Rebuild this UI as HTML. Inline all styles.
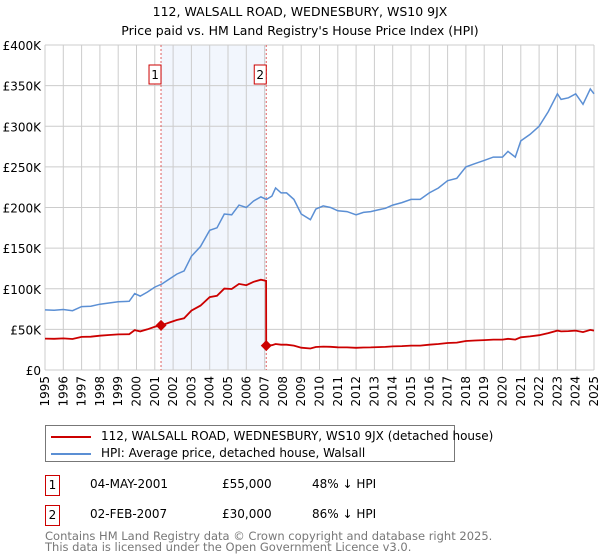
<!DOCTYPE html>
<html><head><meta charset="utf-8"><style>
body{margin:0;background:#fff;font-family:"DejaVu Sans","Liberation Sans",sans-serif;}
#wrap{position:relative;width:600px;height:560px;overflow:hidden;}
.t{position:absolute;font-size:12px;color:#000;white-space:nowrap;}
</style></head><body>
<div id="wrap">
<div class="t" style="left:0;width:600px;top:2px;text-align:center;line-height:19px;font-size:12.5px">112, WALSALL ROAD, WEDNESBURY, WS10 9JX<br>Price paid vs. HM Land Registry's House Price Index (HPI)</div>
<svg id="chart" width="600" height="420" style="position:absolute;left:0;top:0"></svg>
<div style="position:absolute;left:45px;top:425px;width:408px;height:35px;border:1px solid #777;font-size:12px">
 <div style="position:absolute;left:5px;top:3px;white-space:nowrap"><span style="display:inline-block;width:40px;height:2px;background:#cc0000;vertical-align:middle;margin-right:10px"></span>112, WALSALL ROAD, WEDNESBURY, WS10 9JX (detached house)</div>
 <div style="position:absolute;left:5px;top:20px;white-space:nowrap"><span style="display:inline-block;width:40px;height:2px;background:#5b8fd4;vertical-align:middle;margin-right:10px"></span>HPI: Average price, detached house, Walsall</div>
</div>
<div>
 <div style="position:absolute;left:45px;top:475px;width:13px;height:19px;border:1px solid #cc0000;font-size:12px;text-align:center;line-height:19px">1</div>
 <div class="t" style="left:90px;top:477px">04-MAY-2001</div>
 <div class="t" style="left:222px;top:477px">£55,000</div>
 <div class="t" style="left:312px;top:477px">48% ↓ HPI</div>
</div>
<div>
 <div style="position:absolute;left:45px;top:505px;width:13px;height:19px;border:1px solid #cc0000;font-size:12px;text-align:center;line-height:19px">2</div>
 <div class="t" style="left:90px;top:507px">02-FEB-2007</div>
 <div class="t" style="left:222px;top:507px">£30,000</div>
 <div class="t" style="left:312px;top:507px">86% ↓ HPI</div>
</div>
<div class="t" style="left:45px;top:531px;font-size:11.5px;color:#777;line-height:11px">Contains HM Land Registry data © Crown copyright and database right 2025.<br>This data is licensed under the Open Government Licence v3.0.</div>
</div>
<script>
const hpiYears=[1995,1995.5,1996,1996.5,1997,1997.5,1998,1998.5,1999,1999.6,1999.9,2000.2,2000.6,2001,2001.4,2001.8,2002.2,2002.6,2003,2003.5,2004,2004.4,2004.8,2005.2,2005.6,2006,2006.4,2006.8,2007.1,2007.4,2007.6,2007.9,2008.2,2008.6,2009,2009.5,2009.8,2010.2,2010.6,2011,2011.5,2012,2012.4,2012.8,2013.2,2013.6,2014,2014.5,2015,2015.5,2016,2016.5,2017,2017.5,2018,2018.5,2019,2019.5,2020,2020.3,2020.7,2021,2021.5,2022,2022.5,2023,2023.2,2023.6,2024,2024.4,2024.8,2025];
const hpiValues=[74000,73500,74500,73000,78000,78500,81000,82500,84000,84500,94000,91000,96000,102000,106000,112000,118000,122000,140000,152000,172000,175000,192000,191000,203000,200000,208000,213000,210000,214000,224000,218000,218000,210000,192000,185000,198000,202000,200000,196000,195000,191000,194000,195000,197000,199000,203000,206000,210000,210000,218000,224000,233000,236000,250000,254000,258000,262000,262000,269000,262000,282000,290000,300000,318000,340000,333000,335000,340000,327000,346000,340000];
const saleDates=[2001.34,2007.09];
const salePrices=[55000,30000];
const saleLabels=["1","2"];
const yTicks=[0,50000,100000,150000,200000,250000,300000,350000,400000];
const yTickLabels=["£0","£50K","£100K","£150K","£200K","£250K","£300K","£350K","£400K"];
const xTicks=[1995,1996,1997,1998,1999,2000,2001,2002,2003,2004,2005,2006,2007,2008,2009,2010,2011,2012,2013,2014,2015,2016,2017,2018,2019,2020,2021,2022,2023,2024,2025];

const NS="http://www.w3.org/2000/svg",svg=document.getElementById('chart');
const X0=45,X1=594,Y0=370,Y1=45;
const FF='DejaVu Sans, Liberation Sans, sans-serif';
const xs=v=>X0+(v-1995)/30*(X1-X0);
const ys=v=>Y0-v/400000*(Y0-Y1);
function mk(t,a){const e=document.createElementNS(NS,t);for(const k in a)e.setAttribute(k,a[k]);svg.appendChild(e);return e;}
function hpiAt(t){for(let i=1;i<hpiYears.length;i++){if(t<=hpiYears[i]){const f=(t-hpiYears[i-1])/(hpiYears[i]-hpiYears[i-1]);return hpiValues[i-1]+f*(hpiValues[i]-hpiValues[i-1]);}}return hpiValues[hpiValues.length-1];}

let e=mk('rect',{x:xs(saleDates[0]),y:Y1,width:xs(saleDates[1])-xs(saleDates[0]),height:Y0-Y1,fill:'#f2f6fd'});


xTicks.forEach(v=>{
 const l=mk('line',{x1:xs(v),x2:xs(v),y1:Y1,y2:Y0,stroke:'#ccc','stroke-width':1});
 
 
 const t=mk('text',{x:0,y:0,'font-size':12,'font-family':FF,'text-anchor':'end',transform:`translate(${xs(v)+4},${Y0+6}) rotate(-90)`});
 t.textContent=v;
 
 
});
yTicks.forEach((v,i)=>{
 const l=mk('line',{x1:X0,x2:X1,y1:ys(v),y2:ys(v),stroke:'#ccc','stroke-width':1});
 
 
 const t=mk('text',{x:X0-4,y:ys(v)+5,'font-size':12,'font-family':FF,'text-anchor':'end'});
 t.textContent=yTickLabels[i];
 
 
});
saleDates.forEach((d,i)=>{
 const l=mk('line',{x1:xs(d),x2:xs(d),y1:Y1,y2:Y0,stroke:'#e06060','stroke-width':1,'stroke-dasharray':'2,2'});
 
 
 const r=mk('rect',{x:xs(d)-12,y:Y1+20,width:12,height:19,fill:'#fff',stroke:'#cc0000'});
 
 
 const t=mk('text',{x:xs(d)-6,y:Y1+34,'font-size':12,'font-family':FF,'text-anchor':'middle'});
 t.textContent=saleLabels[i];
 
 
});
let p=hpiYears.map((y,i)=>(i?'L':'M')+xs(y).toFixed(1)+','+ys(hpiValues[i]).toFixed(1)).join('');
e=mk('path',{d:p,fill:'none',stroke:'#5b8fd4','stroke-width':1.5});


const r1=salePrices[0]/hpiAt(saleDates[0]),r2=salePrices[1]/hpiAt(saleDates[1]);
let pts=[];
hpiYears.forEach((y,i)=>{if(y<saleDates[1])pts.push([y,hpiValues[i]*r1]);});
pts.push([saleDates[1]-0.01,hpiAt(saleDates[1])*r1]);
pts.push([saleDates[1],salePrices[1]]);
hpiYears.forEach((y,i)=>{if(y>saleDates[1])pts.push([y,hpiValues[i]*r2]);});
p=pts.map((q,i)=>(i?'L':'M')+xs(q[0]).toFixed(1)+','+ys(q[1]).toFixed(1)).join('');
e=mk('path',{d:p,fill:'none',stroke:'#cc0000','stroke-width':1.8});


saleDates.forEach((d,i)=>{
 const x=xs(d),y=ys(salePrices[i]);
 const m=mk('path',{d:`M${x},${y-5.5}L${x+5.5},${y}L${x},${y+5.5}L${x-5.5},${y}Z`,fill:'#cc0000'});
 
 
});
</script>
</body></html>
